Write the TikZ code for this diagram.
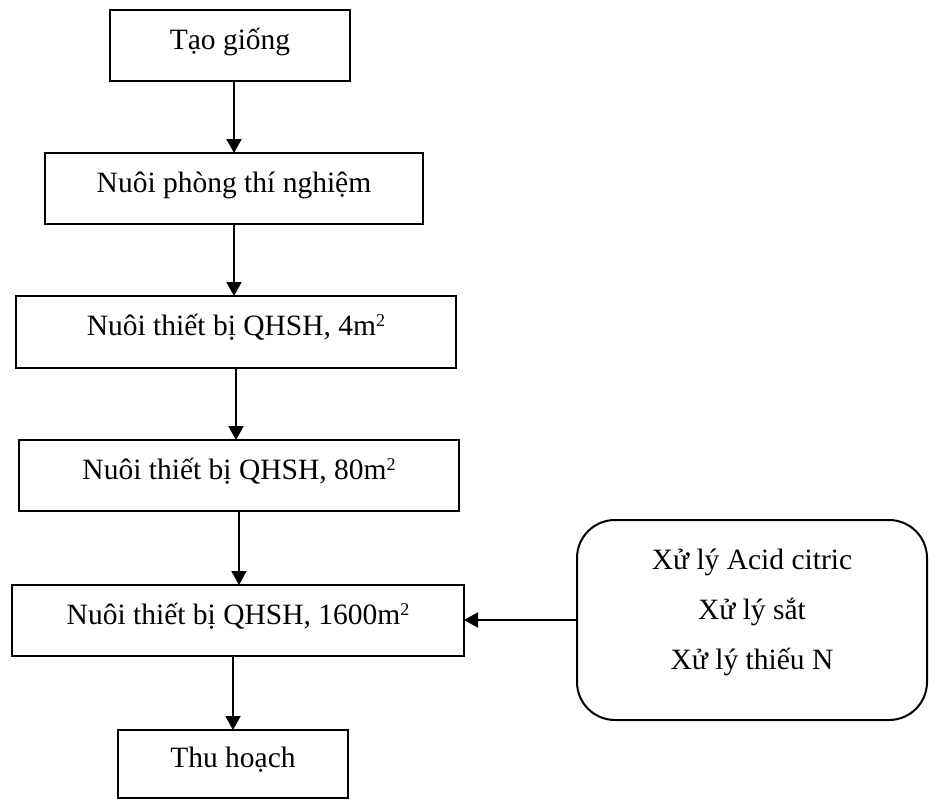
\documentclass[tikz,border=0pt]{standalone}
\usepackage{fontspec}
\setmainfont{Liberation Serif}
\usetikzlibrary{arrows.meta}
\newcommand{\sqsup}{\raisebox{9pt}{\fontsize{18}{18}\selectfont 2}}
\tikzset{
  flowbox/.style={draw, line width=2pt, inner sep=0pt, outer sep=0pt,
    anchor=north west, text height=21pt, text depth=14pt,
    font=\fontsize{29.5}{35}\selectfont},
  roundbox/.style={draw, line width=2pt, rounded corners=38pt, inner sep=0pt,
    outer sep=0pt, anchor=north west, minimum width=350pt, minimum height=200pt},
  boxtext/.style={inner sep=0pt, align=center, font=\fontsize{29.5}{50}\selectfont},
  flowarrow/.style={line width=2pt, -{Triangle[length=14pt,width=15pt]}}
}
\begin{document}
\begin{tikzpicture}[x=1pt,y=-1pt]
\useasboundingbox (0,0) rectangle (929,800);
\node[flowbox, minimum width=240pt, minimum height=71pt] (b1) at (110,10) {Tạo giống};
\node[flowbox, minimum width=378pt, minimum height=71pt] (b2) at (45,153) {Nuôi phòng thí nghiệm};
\node[flowbox, minimum width=440pt, minimum height=72pt] (b3) at (16,296) {Nuôi thiết bị QHSH, 4m\sqsup};
\node[flowbox, minimum width=440pt, minimum height=71pt] (b4) at (19,440) {Nuôi thiết bị QHSH, 80m\sqsup};
\node[flowbox, minimum width=452pt, minimum height=71pt] (b5) at (12,585) {Nuôi thiết bị QHSH, 1600m\sqsup};
\node[flowbox, minimum width=230pt, minimum height=68pt] (b6) at (118,730) {Thu hoạch};
\node[roundbox] (tbox) at (577,520) {};
\node[boxtext] (treat) at (752,612) {Xử lý Acid citric\\Xử lý sắt\\Xử lý thiếu N};
\draw[flowarrow] (b1.south -| b2.north) -- (b2.north);
\draw[flowarrow] (b2.south) -- (b2.south |- b3.north);
\draw[flowarrow] (b3.south) -- (b3.south |- b4.north);
\draw[flowarrow] (b4.south) -- (b4.south |- b5.north);
\draw[flowarrow] (b5.south -| b6.north) -- (b6.north);
\draw[flowarrow] (tbox.west) -- (tbox.west -| b5.east);
\end{tikzpicture}
\end{document}
